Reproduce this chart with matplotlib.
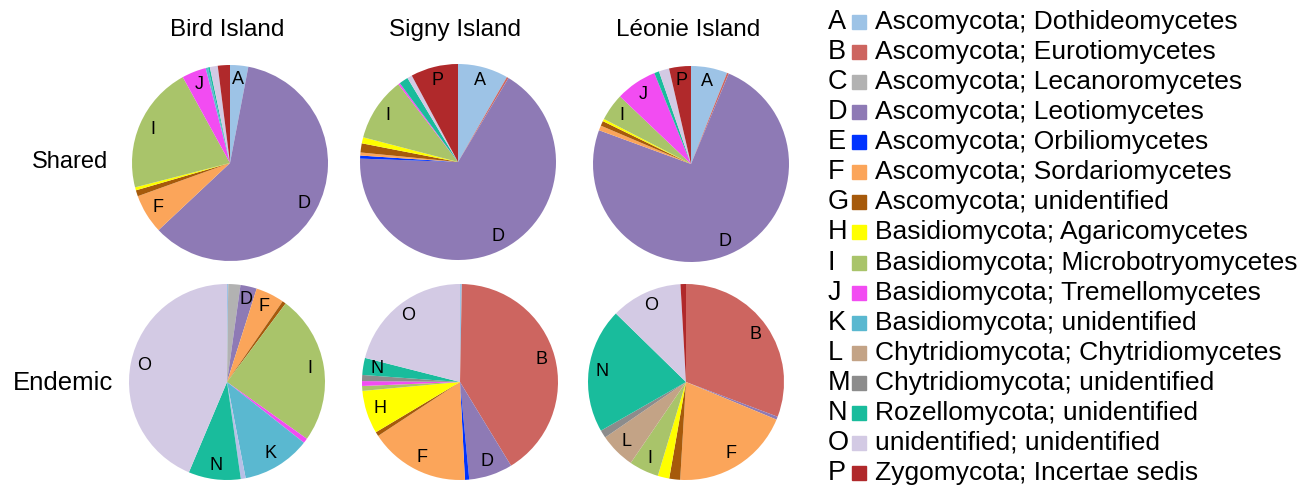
import numpy as np
import matplotlib.pyplot as plt

plt.rcParams['font.family'] = ['Liberation Sans', 'DejaVu Sans']

#------categorias e cores
letters = list('ABCDEFGHIJKLMNOP')
names = ['Ascomycota; Dothideomycetes', 'Ascomycota; Eurotiomycetes',
         'Ascomycota; Lecanoromycetes', 'Ascomycota; Leotiomycetes',
         'Ascomycota; Orbiliomycetes', 'Ascomycota; Sordariomycetes',
         'Ascomycota; unidentified', 'Basidiomycota; Agaricomycetes',
         'Basidiomycota; Microbotryomycetes', 'Basidiomycota; Tremellomycetes',
         'Basidiomycota; unidentified', 'Chytridiomycota; Chytridiomycetes',
         'Chytridiomycota; unidentified', 'Rozellomycota; unidentified',
         'unidentified; unidentified', 'Zygomycota; Incertae sedis']
colors = ['#9dc3e6', '#cd6560', '#b2b2b2', '#8e7ab5', '#0033ff', '#fba55a',
          '#a65a0b', '#ffff00', '#a9c46a', '#f24cf2', '#5ab8d0', '#c3a386',
          '#8c8c8c', '#19bc9c', '#d3cae4', '#b0292b']

islands = ['Bird Island', 'Signy Island', 'Léonie Island']
rows = ['Shared', 'Endemic']

#------valores (%), ordem A..P
#            A    B    C    D     E    F     G    H    I     J    K     L    M    N     O     P
bird_shared = [3.0, 0, 0, 60.0, 0, 6.5, 1.0, 0.5, 21.0, 4.0, 0.4, 0, 0, 0.3, 1.3, 2.0]
signy_shared = [8.3, 0.3, 0, 66.8, 0.5, 0.5, 1.5, 1.0, 10.5, 0.3, 0, 0, 0, 1.5, 0.8, 7.8]
leonie_shared = [6.0, 0.3, 0, 74.3, 0, 0.8, 0.8, 0.4, 4.5, 6.8, 0, 0, 0, 0.8, 1.7, 3.6]
bird_endemic = [0.2, 0, 2.0, 2.7, 0, 4.7, 0.6, 0, 24.6, 0.8, 11.3, 0.8, 0, 8.6, 43.6, 0]
signy_endemic = [0.3, 40.9, 0, 7.2, 0.7, 16.5, 0.7, 7.1, 0.8, 0.8, 0, 0, 1.0, 2.8, 21.0, 0]
leonie_endemic = [0, 30.8, 0, 0.5, 0, 19.7, 1.8, 1.9, 4.9, 0, 0, 5.9, 1.3, 20.6, 11.8, 0.9]

shared_labels = [['A', 'D', 'F', 'I', 'J'], ['A', 'D', 'I', 'P'], ['A', 'D', 'I', 'J', 'P']]
endemic_labels = [['D', 'F', 'I', 'K', 'N', 'O'], ['B', 'D', 'F', 'H', 'N', 'O'],
                  ['B', 'F', 'I', 'L', 'N', 'O']]

values = [[bird_shared, signy_shared, leonie_shared],
          [bird_endemic, signy_endemic, leonie_endemic]]
labels = [shared_labels, endemic_labels]

#------posicoes em pixels (centro x, centro y)
W, H = 1299, 488
centers = [[(230, 163), (458, 162), (691, 164)],
           [(227, 382), (460, 382), (686, 382)]]
R = 98

fig = plt.figure(figsize=(W / 100, H / 100), dpi=100)

for i in range(2):
    for j in range(3):
        cx, cy = centers[i][j]
        ax = fig.add_axes([(cx - R) / W, 1 - (cy + R) / H, 2 * R / W, 2 * R / H])
        cols = list(colors)
        if i == 1 and j == 0:
            cols[11] = '#b7bfe6'  # fatia fina entre K e N
        lab = [l if l in labels[i][j] else '' for l in letters]
        wedges, texts = ax.pie(values[i][j], colors=cols, labels=lab, startangle=90,
                               counterclock=False, radius=1, labeldistance=0.86,
                               wedgeprops=dict(linewidth=0))
        for t in texts:
            t.set_ha('center')
            t.set_va('center')
            t.set_fontsize(13)
        ax.set_xlim(-1, 1)
        ax.set_ylim(-1, 1)
        ax.set_aspect('equal')
        ax.axis('off')

#------titulos
for j, name in enumerate(islands):
    fig.text(centers[0][j][0] / W - 0.002, 1 - 30 / H, name, ha='center', va='center', fontsize=17.5)
fig.text(70 / W, 1 - 162 / H, 'Shared', ha='center', va='center', fontsize=17)
fig.text(63 / W, 1 - 383 / H, 'Endemic', ha='center', va='center', fontsize=18.5)

#------legenda
for k in range(16):
    y = 22 + k * 30.07
    fig.text(828 / W, 1 - y / H, letters[k], ha='left', va='center', fontsize=19.5)
    fig.patches.append(plt.Rectangle(((852) / W, 1 - (y + 7) / H), 14 / W, 14 / H,
                                     transform=fig.transFigure, color=colors[k], figure=fig))
    fig.text(875 / W, 1 - y / H, names[k], ha='left', va='center', fontsize=19)

fig.savefig('out.png', dpi=100)
